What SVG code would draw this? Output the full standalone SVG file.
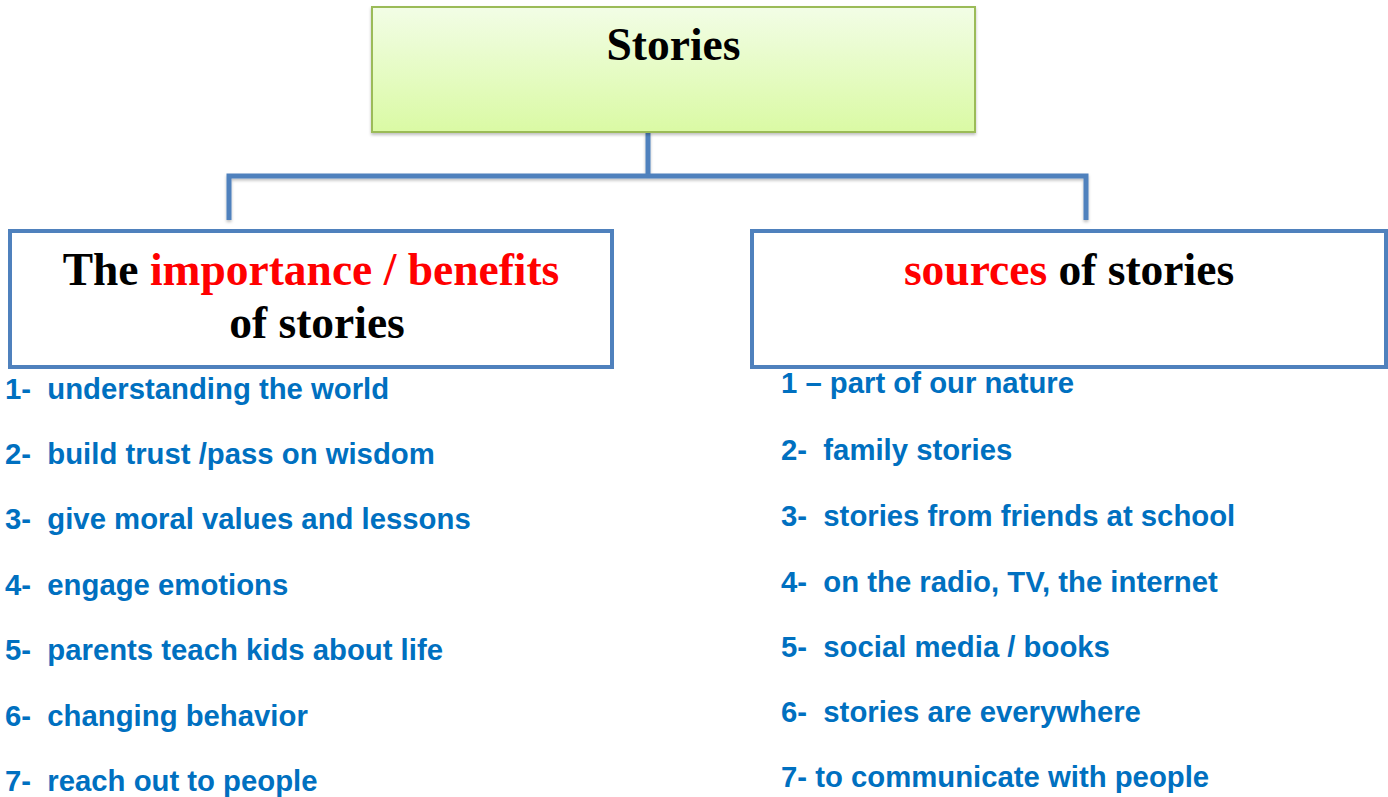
<svg xmlns="http://www.w3.org/2000/svg" width="1388" height="797" viewBox="0 0 1388 797">
<defs>
<linearGradient id="gGreen" x1="0" y1="0" x2="0" y2="1">
<stop offset="0" stop-color="#f2fde6"/>
<stop offset="1" stop-color="#dafaa4"/>
</linearGradient>
<filter id="shadow" x="-5%" y="-5%" width="110%" height="120%">
<feDropShadow dx="0" dy="2" stdDeviation="1.5" flood-color="#000" flood-opacity="0.25"/>
</filter>
</defs>
<style>
.title{font-family:"Liberation Serif","Times New Roman",serif;font-weight:bold;font-size:45.5px;fill:#000}
.red{fill:#ff0000}
.item{font-family:"Liberation Sans",Arial,sans-serif;font-weight:bold;font-size:29.3px;fill:#0070c0;white-space:pre}
.conn{stroke:#4f81bd;stroke-width:5;fill:none}
.box{fill:#fff;stroke:#4f81bd;stroke-width:4}
</style>
<rect width="1388" height="797" fill="#fff"/>
<g id="connectors" filter="url(#shadow)">
<line class="conn" x1="648" y1="132" x2="648" y2="176"/>
<polyline class="conn" points="229,220 229,176 1086,176 1086,220"/>
</g>
<g id="node-stories">
<rect x="372" y="7" width="603" height="125" fill="url(#gGreen)" stroke="#9bbb59" stroke-width="2" filter="url(#shadow)"/>
<text class="title" x="673.5" y="60" text-anchor="middle">Stories</text>
</g>
<g id="node-importance">
<rect class="box" x="10" y="231" width="602" height="136"/>
<text class="title" x="311" y="285" text-anchor="middle">The <tspan class="red">importance / benefits</tspan></text>
<text class="title" x="317" y="338" text-anchor="middle">of stories</text>
</g>
<g id="node-sources">
<rect class="box" x="752" y="231" width="634" height="136"/>
<text class="title" x="1069" y="285" text-anchor="middle"><tspan class="red">sources</tspan> of stories</text>
</g>
<g id="list-importance">
<text class="item" x="5" y="399">1-  understanding the world</text>
<text class="item" x="5" y="464">2-  build trust /pass on wisdom</text>
<text class="item" x="5" y="529">3-  give moral values and lessons</text>
<text class="item" x="5" y="595">4-  engage emotions</text>
<text class="item" x="5" y="660">5-  parents teach kids about life</text>
<text class="item" x="5" y="726">6-  changing behavior</text>
<text class="item" x="5" y="791">7-  reach out to people</text>
</g>
<g id="list-sources">
<text class="item" x="781" y="393">1 – part of our nature</text>
<text class="item" x="781" y="460">2-  family stories</text>
<text class="item" x="781" y="526">3-  stories from friends at school</text>
<text class="item" x="781" y="592">4-  on the radio, TV, the internet</text>
<text class="item" x="781" y="657">5-  social media / books</text>
<text class="item" x="781" y="722">6-  stories are everywhere</text>
<text class="item" x="781" y="787">7- to communicate with people</text>
</g>
</svg>
